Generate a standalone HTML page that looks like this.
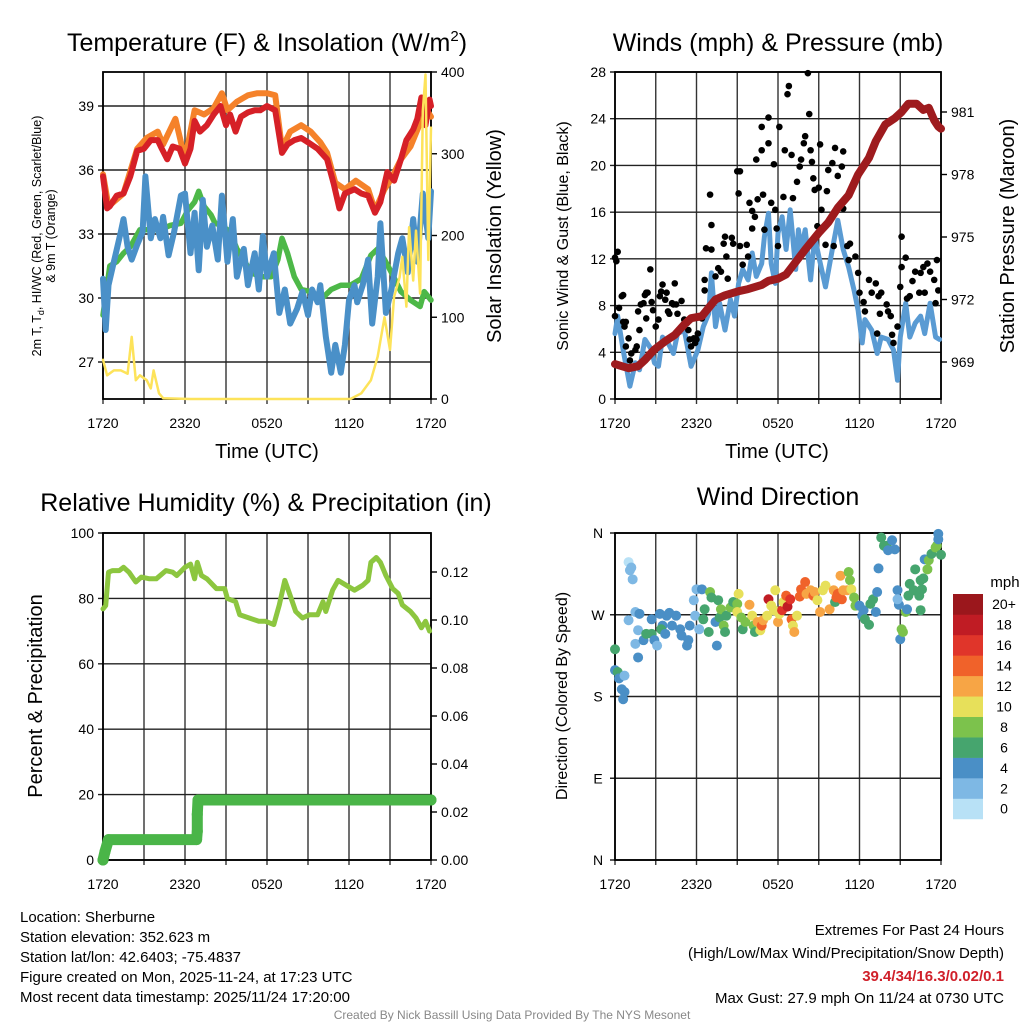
<!DOCTYPE html>
<html><head><meta charset="utf-8">
<style>
body{margin:0;background:#fff;width:1024px;height:1024px;overflow:hidden;font-family:"Liberation Sans",Arial,sans-serif;}
svg{position:absolute;left:0;top:0}
text{font-family:"Liberation Sans",Arial,sans-serif;fill:#000}
</style></head>
<body>
<svg id="chart" width="1024" height="1024" viewBox="0 0 1024 1024">
<g id="static">
<text x="267" y="51" font-size="25" text-anchor="middle">Temperature (F) &amp; Insolation (W/m<tspan font-size="15" dy="-10">2</tspan><tspan dy="10">)</tspan></text>
<text x="778" y="51" font-size="25" text-anchor="middle">Winds (mph) &amp; Pressure (mb)</text>
<text x="266" y="511" font-size="25" text-anchor="middle">Relative Humidity (%) &amp; Precipitation (in)</text>
<text x="778" y="505" font-size="25" text-anchor="middle">Wind Direction</text>

<text x="267" y="458" font-size="20" text-anchor="middle">Time (UTC)</text>
<text x="777" y="458" font-size="20" text-anchor="middle">Time (UTC)</text>

<text transform="translate(41,236) rotate(-90)" font-size="12.5" text-anchor="middle">2m T, T<tspan font-size="9" dy="3">d</tspan><tspan dy="-3">, HI/WC (Red, Green, Scarlet/Blue)</tspan></text>
<text transform="translate(55,236) rotate(-90)" font-size="12.5" text-anchor="middle">&amp; 9m T (Orange)</text>
<text transform="translate(501,236) rotate(-90)" font-size="20" text-anchor="middle">Solar Insolation (Yellow)</text>
<text transform="translate(568,236) rotate(-90)" font-size="16" text-anchor="middle">Sonic Wind &amp; Gust (Blue, Black)</text>
<text transform="translate(1014,236) rotate(-90)" font-size="20" text-anchor="middle">Station Pressure (Maroon)</text>
<text transform="translate(42,696) rotate(-90)" font-size="20" text-anchor="middle">Percent &amp; Precipitation</text>
<text transform="translate(567,696) rotate(-90)" font-size="16" text-anchor="middle">Direction (Colored By Speed)</text>

<text x="1005" y="587" font-size="15" text-anchor="middle">mph</text>

<g font-size="15">
<text x="20" y="922">Location: Sherburne</text>
<text x="20" y="942">Station elevation: 352.623 m</text>
<text x="20" y="962">Station lat/lon: 42.6403; -75.4837</text>
<text x="20" y="982">Figure created on Mon, 2025-11-24, at 17:23 UTC</text>
<text x="20" y="1002">Most recent data timestamp: 2025/11/24 17:20:00</text>
</g>
<g font-size="15" text-anchor="end">
<text x="1004" y="935">Extremes For Past 24 Hours</text>
<text x="1004" y="958">(High/Low/Max Wind/Precipitation/Snow Depth)</text>
<text x="1004" y="981" font-weight="bold" style="fill:#d0202a">39.4/34/16.3/0.02/0.1</text>
<text x="1004" y="1003">Max Gust: 27.9 mph On 11/24 at 0730 UTC</text>
</g>
<text x="512" y="1019" font-size="12" text-anchor="middle" style="fill:#888">Created By Nick Bassill Using Data Provided By The NYS Mesonet</text>
</g>
</svg>
<script>
// ---------- DATA ----------
const xTickLabels = ["1720","2320","0520","1120","1720"];
const tempTicks = [27,30,33,36,39];
const insolTicks = [0,100,200,300,400];
const windTicks = [0,4,8,12,16,20,24,28];
const presTicks = [969,972,975,978,981];
const rhTicks = [0,20,40,60,80,100];
const precipTicks = [0,0.02,0.04,0.06,0.08,0.10,0.12];
const dirTickVals = [0,90,180,270,360];
const dirTickLabels = ["N","E","S","W","N"];
const speedBins = ["0","2","4","6","8","10","12","14","16","18","20+"];
const speedColors = ["#b8e1f6","#7eb8e4","#4a8fc6","#46a56e","#7cc24c","#e7e05a","#f7a545","#f0622a","#e0352a","#c01c24","#9b171c"];

const redT = [[0,35.7],[0.3,34.2],[0.5,34.3],[1.0,34.8],[1.5,34.9],[2.0,35.7],[2.5,36.9],[3.0,37.0],[3.5,37.4],[4.0,37.4],[4.3,37.0],[4.7,36.5],[5.1,37.1],[5.6,37.0],[6.0,36.3],[6.4,37.0],[6.7,38.3],[7.1,37.8],[7.6,38.1],[8.1,38.6],[8.6,39.0],[9.0,38.1],[9.3,38.6],[9.7,37.8],[10.1,38.5],[10.6,38.7],[11.1,38.8],[11.5,38.8],[12.0,39.0],[12.6,38.8],[13.1,36.8],[13.5,37.2],[14.0,37.4],[14.5,37.5],[15.0,37.3],[15.7,37.0],[16.4,36.5],[16.9,35.3],[17.3,34.2],[17.7,34.9],[18.4,35.1],[18.9,34.9],[19.4,34.8],[19.9,34.0],[20.3,34.5],[20.8,35.9],[21.3,35.5],[21.8,36.5],[22.2,37.4],[22.7,37.9],[23.0,38.4],[23.3,39.4],[23.6,38.1],[23.9,39.3],[24,39.0]];
const orangeT = [[0,35.8],[0.4,34.3],[1.5,34.9],[2.5,37.0],[3.2,37.5],[4.0,37.8],[4.4,37.2],[5.3,38.4],[6.0,36.5],[6.7,38.8],[7.4,38.6],[8.1,38.9],[8.7,39.6],[9.1,38.8],[9.8,39.2],[10.6,39.5],[11.3,39.6],[12.0,39.6],[12.6,39.5],[13.1,37.0],[13.7,37.8],[14.5,38.1],[15.2,37.8],[15.9,37.3],[16.4,36.8],[17.0,35.4],[17.7,35.1],[18.5,35.5],[19.4,35.1],[19.9,34.1],[20.6,35.1],[21.1,35.6],[21.8,36.5],[22.5,37.1],[23.2,38.2],[23.5,39.0],[24,38.5]];
const greenTd = [[0,29.2],[0.5,31.5],[1.0,31.7],[1.5,32.1],[2.0,32.4],[2.7,33.2],[3.5,33.2],[4.2,33.2],[4.9,33.4],[5.7,33.5],[6.2,34.1],[6.7,34.5],[7.0,35.0],[7.4,34.3],[7.9,33.9],[8.2,33.5],[8.7,33.4],[9.3,33.1],[9.8,32.3],[10.3,31.8],[10.8,31.2],[11.5,31.0],[12.3,31.0],[12.8,31.8],[13.1,32.8],[13.5,32.1],[14.0,31.0],[14.5,30.4],[15.2,30.3],[15.9,29.9],[16.7,30.4],[17.4,30.6],[18.1,30.6],[18.9,30.9],[19.6,32.0],[20.1,32.3],[20.6,31.8],[21.1,31.2],[21.8,30.3],[22.5,29.9],[23.2,29.6],[23.5,30.3],[24,29.9]];
const blueWC = [[0,30.9],[0.2,28.5],[0.4,30.6],[0.8,31.7],[1.3,33.1],[1.5,33.7],[1.8,32.4],[2.1,31.8],[2.5,32.5],[2.9,33.1],[3.1,35.7],[3.5,32.8],[3.8,33.7],[4.2,32.8],[4.4,33.8],[4.8,32.0],[5.2,33.1],[5.7,34.8],[6.0,34.9],[6.4,32.1],[6.7,34.0],[7.0,31.3],[7.3,34.6],[7.6,32.4],[8.0,33.4],[8.4,31.8],[8.7,34.8],[9.1,31.7],[9.5,33.7],[9.8,31.0],[10.3,32.3],[10.6,30.6],[11.1,32.1],[11.4,30.4],[11.7,32.9],[12.0,31.0],[12.5,32.1],[12.9,29.3],[13.3,30.4],[13.7,28.8],[14.2,29.5],[14.6,30.3],[15.0,29.2],[15.3,30.4],[15.7,29.8],[15.9,30.6],[16.3,28.2],[16.7,26.5],[17.0,27.8],[17.4,26.5],[17.7,27.8],[18.0,29.9],[18.4,30.6],[18.6,29.8],[19.0,30.6],[19.4,31.8],[19.7,28.8],[20.1,31.0],[20.3,33.5],[20.7,29.3],[21.1,30.4],[21.6,32.1],[21.9,32.8],[22.3,31.2],[22.7,33.7],[23.0,31.7],[23.4,34.9],[23.8,32.8],[24,35.0]];
const insolation = [[0,48],[0.3,29],[0.8,35],[1.3,35],[1.8,31],[2.1,76],[2.4,23],[2.7,29],[3.2,23],[3.5,13],[3.7,35],[4.1,7],[4.4,1],[6.4,0],[18.1,0],[18.9,7],[19.6,23],[20.1,52],[20.6,100],[21.0,60],[21.3,125],[21.7,149],[21.9,174],[22.2,113],[22.4,210],[22.7,145],[22.9,206],[23.2,129],[23.4,352],[23.6,397],[23.8,170],[24,332]];

const windSpeed = [[0,5.6],[0.2,7.1],[0.6,4.2],[1.1,1.1],[1.5,3.1],[1.8,2.5],[2.2,5.1],[2.7,4.2],[2.9,3.1],[3.2,2.8],[3.5,5.3],[3.9,4.8],[4.3,3.9],[4.6,5.6],[5.1,5.9],[5.6,2.8],[6.1,4.2],[6.5,6.2],[6.9,7.3],[7.1,10.8],[7.4,6.2],[7.7,8.2],[8.1,5.9],[8.5,8.5],[8.8,7.1],[9.1,9.9],[9.4,11.1],[9.8,10.2],[10.1,12.5],[10.4,10.5],[10.8,11.6],[11.0,13.9],[11.3,15.9],[11.5,11.6],[11.8,9.9],[12.0,14.2],[12.3,15.6],[12.6,12.8],[12.9,16.2],[13.3,11.1],[13.5,14.5],[13.7,12.8],[14.0,14.5],[14.4,10.2],[14.7,13.9],[15.0,12.2],[15.5,9.6],[16.0,12.8],[16.4,15.3],[16.8,12.8],[17.2,11.3],[17.6,9.3],[17.9,7.6],[18.2,4.8],[18.4,6.8],[18.9,5.9],[19.3,3.9],[19.6,5.3],[20.1,5.1],[20.5,4.2],[20.8,1.6],[21.0,5.3],[21.4,8.2],[21.7,5.3],[22.1,6.5],[22.5,7.1],[22.8,5.6],[23.2,8.2],[23.6,5.3],[23.9,5.1]];
const gustTimes = [0,0.1,0.2,0.5,0.3,0.6,0,0.6,0.8,0.7,1.0,0.8,1.1,1.2,1.5,1.6,1.7,1.8,1.9,2.1,2.2,2.3,2.4,2.3,2.6,2.7,2.8,3.0,3.2,3.3,3.4,3.5,3.7,3.8,3.9,4.0,4.2,4.3,4.4,4.5,4.6,4.9,5.1,5.3,5.4,5.5,5.6,5.8,5.9,6.0,6.1,6.4,6.6,6.6,6.7,7.0,7.1,7.1,7.4,7.6,7.8,8.0,8.1,8.2,8.3,8.6,8.7,9.0,9.1,9.2,9.2,9.4,9.7,9.8,9.9,10.1,10.1,10.3,10.4,10.5,10.8,10.8,10.9,11.0,11.3,11.3,11.5,11.7,11.8,11.9,12.0,12.1,12.4,12.5,12.7,12.8,13.0,13.1,13.4,13.6,13.7,13.9,14.0,14.2,14.3,14.4,14.5,14.6,14.7,14.9,15.0,15.1,15.2,15.5,15.6,15.7,16.0,16.1,16.2,16.4,16.7,16.8,16.8,17.1,17.2,17.3,17.7,17.9,18.0,18.3,18.4,18.7,18.9,19.2,19.3,19.4,19.5,19.6,20.0,20.1,20.3,20.4,20.5,20.8,21.0,21.1,21.1,21.4,21.5,21.7,21.9,22.1,22.4,22.5,22.7,22.8,23.0,23.2,23.5,23.6,23.7,23.8];
const gustSpeeds = [12.1,11.8,12.6,8.8,7.8,8.9,7.1,6.6,6.6,6.2,5.2,4.5,3.3,3.9,4.2,4.5,7.5,5.9,8.1,8.2,8.9,9.1,9.1,6.9,11.1,8.3,7.6,6.2,6.8,8.8,9.2,9.8,8.5,9.1,7.5,7.3,8.2,8.1,9.9,8.1,7.3,8.4,6.8,6.5,5.9,5.1,4.5,5.2,4.8,5.1,5.6,6.9,9.3,10.2,12.9,17.5,14.9,12.8,10.5,11.2,10.9,13.3,13.9,12.2,10.3,13.8,13.3,19.5,17.6,19.5,13.1,11.5,13.2,12.2,16.8,16.1,14.6,15.6,20.5,17.1,21.3,23.3,17.5,14.5,21.9,24.1,16.8,20.1,16.2,14.6,13.1,23.3,17.3,21.3,26.1,26.8,20.9,17.2,18.6,19.9,20.5,21.9,22.5,27.9,24.4,21.3,20.3,18.9,17.9,14.8,18.1,21.8,16.2,13.2,17.8,19.6,20.2,13.1,21.5,19.1,19.9,21.2,16.3,13.1,11.9,13.3,12.2,10.8,9.1,8.3,7.5,10.2,9.1,9.9,5.6,8.8,7.3,9.1,8.1,7.5,7.1,5.5,4.8,6.2,9.6,11.3,13.9,12.1,8.6,8.8,10.1,10.9,9.1,10.8,11.3,9.1,11.6,10.9,10.2,8.2,11.9,9.3];
const pressure = [[0,968.9],[0.5,968.8],[1.0,968.7],[1.7,968.8],[2.2,969.1],[2.9,969.6],[3.7,970.0],[4.4,970.3],[5.1,970.8],[5.6,971.1],[6.4,971.2],[6.9,971.6],[7.4,972.0],[8.1,972.2],[9.1,972.4],[9.8,972.5],[10.8,972.7],[11.3,972.9],[12.0,973.0],[12.6,973.2],[13.3,973.8],[14.0,974.4],[15.0,975.2],[15.7,975.7],[16.4,976.4],[17.2,977.0],[17.9,978.0],[18.7,978.8],[19.2,979.6],[19.9,980.4],[20.6,980.7],[21.1,981.0],[21.6,981.4],[22.2,981.4],[22.7,981.1],[23.1,981.2],[23.5,980.6],[23.8,980.3],[24,980.2]];

const rh = [[0,76.8],[0.2,77.8],[0.4,88],[0.7,88.5],[1.2,88.5],[1.5,89.5],[1.9,88],[2.4,85],[2.8,86.5],[3.4,86],[3.9,86],[4.6,88.5],[5.1,88],[5.4,87],[6.0,89.5],[6.4,90.5],[6.7,86],[6.9,91],[7.2,87],[7.6,86],[8.3,83],[8.9,83],[9.1,80],[9.7,79],[10.0,75],[10.7,74],[11.4,73],[11.9,73],[12.5,72],[12.9,78],[13.3,85.5],[13.6,82],[14.1,76],[14.6,74],[15.1,75],[15.7,75],[16.1,79],[16.3,76],[16.8,82.5],[17.2,85.5],[17.8,84],[18.4,82.5],[19.0,84],[19.4,85.5],[19.6,91],[20.0,92.5],[20.3,91],[20.7,87],[21.2,83],[21.6,81.5],[21.9,78],[22.5,76],[22.9,74],[23.3,71],[23.6,73],[23.9,70]];
const precip = [[0,0],[0.15,0.0035],[0.4,0.0085],[6.85,0.0085],[6.9,0.012],[6.9,0.019],[6.95,0.025],[24,0.025]];

const dirTimes = [0,0,0.2,0.3,0.7,0.5,0.7,0.6,1.0,1.1,1.2,1.3,1.0,1.5,1.8,1.7,1.5,2.1,2.3,2.7,2.7,2.9,3.1,1.7,3.3,3.5,3.8,4.0,3.4,3.7,4.2,4.5,4.8,4.9,5.3,5.4,5.5,5.8,6.0,5.9,6.2,6.4,6.6,6.5,7.0,7.1,6.9,7.4,7.5,7.6,7.7,7.8,8.0,8.1,8.2,8.5,8.7,9.0,9.1,9.0,9.3,9.4,9.6,9.9,10.1,10.2,10.3,10.5,10.7,10.8,10.9,11.2,11.3,11.5,11.7,11.8,12.0,12.1,12.3,12.4,12.6,12.7,12.9,13.0,13.1,13.2,13.4,13.6,13.7,14.0,14.1,14.4,14.6,14.7,14.9,15.1,15.3,15.5,15.8,16.1,16.2,16.3,16.4,16.6,16.7,16.8,17.1,17.2,17.3,17.4,17.6,17.7,18.0,18.3,18.2,18.4,18.7,18.8,19.0,19.2,19.3,19.4,19.6,19.8,20.0,20.1,20.4,20.6,20.8,20.9,20.8,21.0,21.1,21.2,21.4,21.5,21.6,21.7,22.0,22.1,22.4,22.5,22.6,22.7,22.5,22.8,23.0,23.1,23.3,23.6,23.7,23.8,23.8,24.0];
const dirDegrees = [232,209,207,200,203,188,185,177,328,319,322,309,264,273,271,253,238,242,249,249,265,242,236,223,271,258,269,272,254,249,258,269,254,247,236,242,258,286,298,269,254,298,276,265,295,289,251,262,236,286,267,276,258,251,269,278,284,282,293,273,267,254,262,281,269,258,251,262,253,258,264,269,287,280,275,297,262,271,275,284,291,279,287,265,258,251,269,290,298,306,293,297,291,295,286,273,297,302,276,297,284,289,293,313,287,297,297,317,308,298,289,280,280,275,269,265,259,282,287,273,295,321,355,346,346,341,352,342,297,281,287,243,254,251,273,276,291,304,297,320,291,308,298,310,275,331,320,330,337,344,346,359,353,336];
const dirSpeeds = [6,4,6,4,2,4,4,4,0,2,2,2,2,2,4,2,2,4,6,6,4,4,2,4,4,4,4,4,6,4,4,4,4,4,4,4,4,2,2,2,2,4,6,6,8,6,6,4,4,6,6,8,8,6,6,8,6,8,10,10,8,6,8,12,10,8,6,12,10,14,12,10,18,10,10,10,12,10,16,10,14,18,16,14,10,12,10,14,14,14,12,12,14,12,10,12,10,10,12,12,6,14,14,12,14,12,12,8,8,10,8,8,4,4,4,6,6,6,6,4,4,4,6,6,6,4,4,4,4,4,2,4,8,8,8,4,6,6,6,6,6,6,6,6,6,4,8,8,6,8,8,4,4,6];

// ---------- RENDER ----------
const svg = document.getElementById('chart');
const NS = 'http://www.w3.org/2000/svg';
function mk(tag, attrs, parent){
  const e = document.createElementNS(NS, tag);
  for (const k in attrs) e.setAttribute(k, attrs[k]);
  (parent || svg).appendChild(e);
  return e;
}
function scale(d0, d1, r0, r1){ return v => r0 + (v - d0) / (d1 - d0) * (r1 - r0); }

const P1 = {l:103, r:431, t:72, b:399};
const P2 = {l:615, r:941, t:72, b:399};
const P3 = {l:103, r:431, t:533, b:860};
const P4 = {l:615, r:941, t:533, b:860};

const x1 = scale(0, 24, P1.l, P1.r);
const x2 = scale(0, 24, P2.l, P2.r);
const yTemp = scale(27, 39, 362, 106);
const yIns = scale(0, 400, 399, 72);
const yWind = scale(0, 28, 399, 72);
const yPres = scale(969, 981, 362, 112);
const yRH = scale(0, 100, 860, 533);
const yPrecip = scale(0, 0.12, 860, 572);
const yDir = scale(0, 360, 860, 533);

function frame(P, name, hTicksY){
  const g = mk('g', {});
  
  
  for (let i = 0; i <= 8; i++){
    const x = P.l + (P.r - P.l) * i / 8;
    mk('line', {x1:x, x2:x, y1:P.t, y2:P.b + 5, stroke:'#333', 'stroke-width':1.4}, g);
  }
  hTicksY.forEach(y => {
    mk('line', {x1:P.l - 5, x2:P.r, y1:y, y2:y, stroke:'#222', 'stroke-width':1.4}, g);
  });
  const f = mk('rect', {x:P.l, y:P.t, width:P.r - P.l, height:P.b - P.t, fill:'none', stroke:'#000', 'stroke-width':1.8});
  
  
  xTickLabels.forEach((lab, i) => {
    const t = mk('text', {x:P.l + (P.r - P.l) * i / 4, y:P.b + 29, 'font-size':14, 'text-anchor':'middle'});
    t.textContent = lab;
    
    
  });
}
function labelsLeft(P, vals, yf, fmt, name, xoff){
  vals.forEach(v => {
    const t = mk('text', {x:P.l - (xoff || 9), y:yf(v) + 5, 'font-size':14, 'text-anchor':'end'});
    t.textContent = fmt(v);
    
    
  });
}
function labelsRight(P, vals, yf, fmt, name){
  vals.forEach(v => {
    mk('line', {x1:P.r, x2:P.r + 6, y1:yf(v), y2:yf(v), stroke:'#000', 'stroke-width':1.4});
    const t = mk('text', {x:P.r + 10, y:yf(v) + 5, 'font-size':14, 'text-anchor':'start'});
    t.textContent = fmt(v);
    
    
  });
}
function line(data, xf, yf, color, w, name, op){
  const d = data.map((p, i) => (i ? 'L' : 'M') + xf(p[0]).toFixed(1) + ',' + yf(p[1]).toFixed(1)).join('');
  const e = mk('path', {d:d, fill:'none', stroke:color, 'stroke-width':w, 'stroke-linejoin':'round', 'stroke-linecap':'round', opacity:op || 1});
  
  
  return e;
}

// Panel 1
frame(P1, 'temperature', tempTicks.map(yTemp));
labelsLeft(P1, tempTicks, yTemp, v => v, 'temperature-y-tick-label');
labelsRight(P1, insolTicks, yIns, v => v, 'insolation-y-tick-label');
line(orangeT, x1, yTemp, '#f5822a', 6, 'series-9m-temperature-orange');
line(redT, x1, yTemp, '#d62027', 6, 'series-2m-temperature-red');
line(greenTd, x1, yTemp, '#4db848', 5.5, 'series-dewpoint-green');
line(blueWC, x1, yTemp, '#4a90c8', 6, 'series-windchill-blue');
line(insolation, x1, yIns, '#fde35a', 2.5, 'series-solar-insolation-yellow');

// Panel 2
frame(P2, 'winds', windTicks.map(yWind));
labelsLeft(P2, windTicks, yWind, v => v, 'wind-y-tick-label');
labelsRight(P2, presTicks, yPres, v => v, 'pressure-y-tick-label');
line(windSpeed, x2, yWind, '#5a9bd3', 5, 'series-sonic-wind-blue');
const gg = mk('g', {});


gustTimes.forEach((t, i) => {
  const c = mk('circle', {cx:x2(t), cy:yWind(gustSpeeds[i]), r:3.3, fill:'#000'}, gg);
  
  
});
line(pressure, x2, yPres, '#9e1b1e', 8, 'series-station-pressure-maroon');

// Panel 3
frame(P3, 'humidity', rhTicks.map(yRH));
labelsLeft(P3, rhTicks, yRH, v => v, 'humidity-y-tick-label');
labelsRight(P3, precipTicks, yPrecip, v => v.toFixed(2), 'precip-y-tick-label');
line(rh, x1, yRH, '#8cc63f', 5, 'series-relative-humidity');
line(precip, x1, yPrecip, '#4ab548', 11, 'series-precipitation');
precip.forEach(p => {
  const c = mk('circle', {cx:x1(p[0]), cy:yPrecip(p[1]), r:5.5, fill:'#4ab548'});
  
  
});

// Panel 4
frame(P4, 'direction', dirTickVals.map(yDir));
dirTickVals.forEach((v, i) => {
  const t = mk('text', {x:P4.l - 17, y:yDir(v) + 5, 'font-size':14, 'text-anchor':'middle'});
  t.textContent = dirTickLabels[i];
  
  
});
const dg = mk('g', {});


dirTimes.forEach((t, i) => {
  const idx = Math.min(10, Math.round(dirSpeeds[i] / 2));
  const c = mk('circle', {cx:x2(t), cy:yDir(dirDegrees[i]), r:5, fill:speedColors[idx]}, dg);
  
  
});

// Colorbar
const cbTop = 594, cbH = 20.45;
speedBins.forEach((lab, i) => {
  const y = cbTop + (10 - i) * cbH;
  const r = mk('rect', {x:953, y:y, width:30, height:cbH + 0.3, fill:speedColors[i]});
  
  
  const t = mk('text', {x:1004, y:y + cbH/2 + 5, 'font-size':14, 'text-anchor':'middle'});
  t.textContent = lab;
  
  
});
</script>
</body></html>
